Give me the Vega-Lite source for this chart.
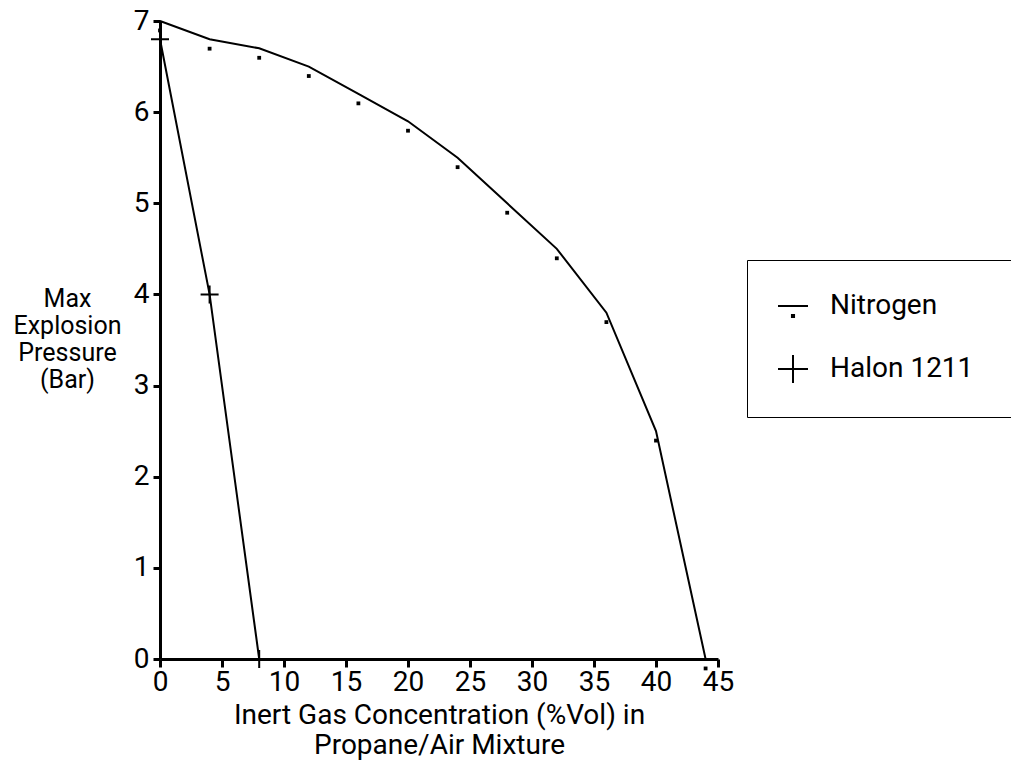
{
  "$schema": "https://vega.github.io/schema/vega-lite/v6.json",
  "width": 558,
  "height": 638,
  "autosize": {"type": "none"},
  "padding": {"left": 160, "top": 21, "right": 293, "bottom": 105},
  "background": "white",
  "config": {
    "view": {"stroke": null},
    "font": "Roboto",
    "axis": {"ticks": true, "tickOpacity": 1, "tickColor": "black", "tickWidth": 3, "domainColor": "black", "domainWidth": 3}
  },
  "data": {
    "values": [
      {"gas": "Nitrogen", "conc": 0, "pressure": 7.0},
      {"gas": "Nitrogen", "conc": 4, "pressure": 6.8},
      {"gas": "Nitrogen", "conc": 8, "pressure": 6.7},
      {"gas": "Nitrogen", "conc": 12, "pressure": 6.5},
      {"gas": "Nitrogen", "conc": 16, "pressure": 6.2},
      {"gas": "Nitrogen", "conc": 20, "pressure": 5.9},
      {"gas": "Nitrogen", "conc": 24, "pressure": 5.5},
      {"gas": "Nitrogen", "conc": 28, "pressure": 5.0},
      {"gas": "Nitrogen", "conc": 32, "pressure": 4.5},
      {"gas": "Nitrogen", "conc": 36, "pressure": 3.8},
      {"gas": "Nitrogen", "conc": 40, "pressure": 2.5},
      {"gas": "Nitrogen", "conc": 44, "pressure": 0.0},
      {"gas": "Halon 1211", "conc": 0, "pressure": 6.8},
      {"gas": "Halon 1211", "conc": 4, "pressure": 4.0},
      {"gas": "Halon 1211", "conc": 8, "pressure": 0.0}
    ]
  },
  "encoding": {
    "x": {
      "field": "conc",
      "type": "quantitative",
      "scale": {"domain": [0, 45], "nice": false, "zero": false},
      "axis": {
        "values": [0, 5, 10, 15, 20, 25, 30, 35, 40, 45],
        "zindex": 1,
        "grid": false,
        "domain": true,
        "domainColor": "black",
        "domainWidth": 3,
        "ticks": true,
        "tickColor": "black",
        "tickOpacity": 1,
        "tickWidth": 3,
        "tickSize": 8,
        "labelColor": "black",
        "labelFont": "Roboto",
        "labelFontSize": 28,
        "labelFlush": false,
        "labelOverlap": false,
        "labelPadding": 1,
        "title": ["Inert Gas Concentration (%Vol) in", "Propane/Air Mixture"],
        "titleColor": "black",
        "titleFont": "Roboto",
        "titleFontWeight": "normal",
        "titleFontSize": 28,
        "titleLineHeight": 30,
        "titleBaseline": "alphabetic",
        "titleY": 64,
        "titleAnchor": "middle"
      }
    },
    "y": {
      "field": "pressure",
      "type": "quantitative",
      "scale": {"domain": [0, 7], "nice": false, "zero": false},
      "axis": {
        "values": [0, 1, 2, 3, 4, 5, 6, 7],
        "zindex": 1,
        "grid": false,
        "domain": true,
        "domainColor": "black",
        "domainWidth": 3,
        "ticks": true,
        "tickColor": "black",
        "tickOpacity": 1,
        "tickWidth": 3,
        "tickSize": 7,
        "labelColor": "black",
        "labelFont": "Roboto",
        "labelFontSize": 28,
        "labelFlush": false,
        "labelOverlap": false,
        "labelPadding": 4,
        "title": ["Max", "Explosion", "Pressure", "(Bar)"],
        "titleColor": "black",
        "titleFont": "Roboto",
        "titleFontWeight": "normal",
        "titleFontSize": 25,
        "titleAngle": 0,
        "titleAlign": "center",
        "titleBaseline": "alphabetic",
        "titleLineHeight": 27,
        "titleX": -93,
        "titleY": 285
      }
    }
  },
  "layer": [
    {
      "mark": {"type": "line", "stroke": "black", "strokeWidth": 2},
      "encoding": {"detail": {"field": "gas"}}
    },
    {
      "mark": {"type": "point", "filled": false, "stroke": "black", "strokeWidth": 2, "size": 324, "opacity": 0},
      "encoding": {
        "shape": {
          "field": "gas",
          "type": "nominal",
          "scale": {
            "domain": ["Nitrogen", "Halon 1211"],
            "range": ["M-1,0H1M-0.07,0.6h0.14v0.14h-0.14z", "M-1,0H1M0,-0.93V0.93"]
          },
          "legend": {
            "title": "\u00a0",
            "titleOrient": "right",
            "titlePadding": 24,
            "titleFontSize": 28,
            "orient": "none",
            "legendX": 587,
            "legendY": 239,
            "padding": 30,
            "strokeColor": "black",
            "fillColor": "white",
            "cornerRadius": 0,
            "rowPadding": 29,
            "symbolSize": 900,
            "symbolOpacity": 1,
            "symbolStrokeWidth": 2,
            "symbolStrokeColor": "black",
            "symbolFillColor": "transparent",
            "labelFont": "Roboto",
            "labelFontSize": 28,
            "labelColor": "black",
            "labelOpacity": 1,
            "labelOffset": 21,
            "labelLimit": 400
          }
        }
      }
    },
    {
      "mark": {"type": "point", "filled": false, "stroke": "black", "strokeWidth": 2, "size": 324, "opacity": 1},
      "encoding": {
        "shape": {
          "condition": {"test": "datum.gas === 'Nitrogen'", "value": "M-0.1,0.95h0.2v0.2h-0.2z"},
          "value": "M-1,0H1M0,-1V1"
        }
      }
    }
  ]
}
